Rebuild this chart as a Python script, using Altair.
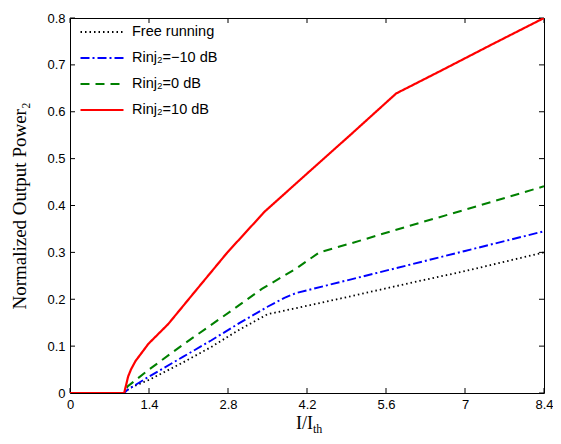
import altair as alt
import pandas as pd

# ---- data ----
series_names = ["Free running", "Rinj₂=−10 dB", "Rinj₂=0 dB", "Rinj₂=10 dB"]

free_x = [0, 0.96, 1.05, 1.4, 2.0, 2.5, 3.0, 3.5, 4.2, 5.0, 6.0, 7.0, 8.4]
free_y = [0, 0, 0.010, 0.028, 0.065, 0.098, 0.135, 0.168, 0.186, 0.207, 0.234, 0.260, 0.300]

m10_x = [0, 0.96, 1.02, 1.4, 2.0, 2.5, 3.0, 3.5, 3.8, 4.0, 5.0, 6.0, 7.0, 8.4]
m10_y = [0, 0, 0.007, 0.035, 0.077, 0.112, 0.149, 0.184, 0.203, 0.213, 0.243, 0.273, 0.303, 0.345]

z0_x = [0, 0.96, 1.02, 1.4, 2.0, 2.7, 3.4, 4.0, 4.42, 5.0, 6.0, 7.0, 8.4]
z0_y = [0, 0, 0.014, 0.050, 0.103, 0.162, 0.222, 0.265, 0.300, 0.320, 0.356, 0.391, 0.441]

p10_x = [0, 0.96, 0.99, 1.03, 1.08, 1.16, 1.39, 1.74, 2.26, 2.79, 3.45, 4.2, 5.0, 5.78, 6.5, 7.5, 8.4]
p10_y = [0, 0, 0.015, 0.035, 0.050, 0.068, 0.105, 0.147, 0.223, 0.300, 0.387, 0.468, 0.554, 0.639, 0.683, 0.745, 0.800]

x_ticks = [0, 1.4, 2.8, 4.2, 5.6, 7, 8.4]
y_ticks = [0, 0.1, 0.2, 0.3, 0.4, 0.5, 0.6, 0.7, 0.8]

colors = ["#000000", "#0000ff", "#008000", "#ff0000"]
dashes = [[1.5, 3.0], [9, 3, 2, 3], [9, 6], [1, 0]]
widths = [1.8, 2.2, 2.4, 2.6]

rows = []
for name, xs, ys in zip(series_names, [free_x, m10_x, z0_x, p10_x], [free_y, m10_y, z0_y, p10_y]):
    for xv, yv in zip(xs, ys):
        rows.append({"series": name, "x": xv, "y": yv})
df = pd.DataFrame(rows)

W, H = 474, 375
TICK = 5

xscale = alt.Scale(domain=[0, 8.4], nice=False, zero=False)
yscale = alt.Scale(domain=[0, 0.8], nice=False, zero=False)

legend = alt.Legend(
    title=None,
    orient="none",
    legendX=9,
    legendY=7,
    padding=0,
    symbolType="stroke",
    symbolSize=1849,
    symbolStrokeWidth=2.2,
    clipHeight=14,
    rowPadding=11,
    labelOffset=7,
    labelFont="Liberation Sans",
    labelFontSize=14.5,
    labelColor="black",
    labelLimit=300,
)

lines = alt.Chart(df).mark_line(clip=True).encode(
    x=alt.X("x:Q", scale=xscale,
            axis=alt.Axis(values=x_ticks, format="~g", title=None, grid=False,
                          domain=False, ticks=False, labelPadding=5,
                          labelFont="Liberation Sans", labelFontSize=13,
                          labelColor="black", labelFlush=False)),
    y=alt.Y("y:Q", scale=yscale,
            axis=alt.Axis(values=y_ticks, format="~g", title="Normalized Output Power₂",
                          grid=False, domain=False, ticks=False, labelPadding=5,
                          labelFont="Liberation Sans", labelFontSize=13,
                          labelColor="black", labelFlush=False,
                          titleFont="Liberation Serif", titleFontSize=19,
                          titleFontWeight="normal", titleColor="black",
                          titlePadding=17)),
    color=alt.Color("series:N", scale=alt.Scale(domain=series_names, range=colors), legend=legend),
    strokeDash=alt.StrokeDash("series:N", scale=alt.Scale(domain=series_names, range=dashes), legend=legend),
    strokeWidth=alt.StrokeWidth("series:N", scale=alt.Scale(domain=series_names, range=widths), legend=None),
)

xt = pd.DataFrame({"x": x_ticks})
yt = pd.DataFrame({"y": y_ticks})

bottom_ticks = alt.Chart(xt).mark_rule(color="black", strokeWidth=1).encode(
    x=alt.X("x:Q", scale=xscale), y=alt.value(H), y2=alt.value(H - TICK))
top_ticks = alt.Chart(xt).mark_rule(color="black", strokeWidth=1).encode(
    x=alt.X("x:Q", scale=xscale), y=alt.value(0), y2=alt.value(TICK))
left_ticks = alt.Chart(yt).mark_rule(color="black", strokeWidth=1).encode(
    y=alt.Y("y:Q", scale=yscale), x=alt.value(0), x2=alt.value(TICK))
right_ticks = alt.Chart(yt).mark_rule(color="black", strokeWidth=1).encode(
    y=alt.Y("y:Q", scale=yscale), x=alt.value(W), x2=alt.value(W - TICK))

xtitle_main = alt.Chart(pd.DataFrame({"t": ["I/I"]})).mark_text(
    font="Liberation Serif", fontSize=18, align="right", baseline="alphabetic", color="black"
).encode(text="t:N", x=alt.value(W / 2 + 6), y=alt.value(H + 36))
xtitle_sub = alt.Chart(pd.DataFrame({"t": ["th"]})).mark_text(
    font="Liberation Serif", fontSize=12, align="left", baseline="alphabetic", color="black"
).encode(text="t:N", x=alt.value(W / 2 + 6), y=alt.value(H + 40))

chart = alt.layer(
    bottom_ticks, top_ticks, left_ticks, right_ticks, lines, xtitle_main, xtitle_sub
).properties(
    width=W, height=H,
    autosize=alt.AutoSizeParams(type="none"),
    padding={"left": 62, "top": 10, "right": 9, "bottom": 43},
    background="white",
).configure_view(stroke="black", strokeWidth=1)

chart.save("out.html", embed_options={"renderer": "svg", "actions": False})
